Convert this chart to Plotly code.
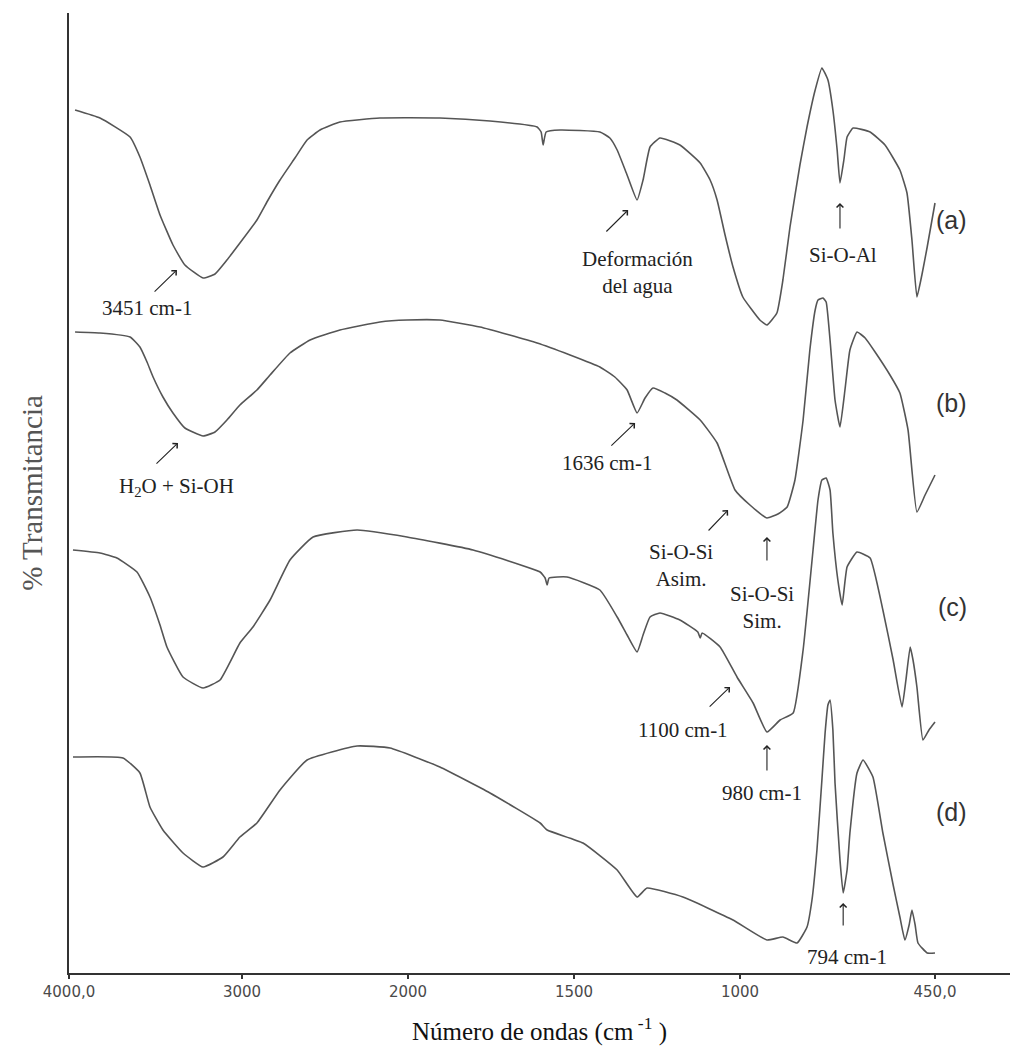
import numpy as np
import plotly.graph_objects as go

# ---------------- data (wavenumber cm-1, transmittance arbitrary %) ----------------
wn_a = [3965, 3821, 3647, 3590, 3532, 3474, 3399, 3330, 3225, 3156, 3087, 3012, 2910, 2843,
        2771, 2681, 2608, 2530, 2410, 2169, 1904, 1753, 1611, 1599, 1593, 1584, 1542, 1422,
        1392, 1370, 1340, 1310, 1292, 1271, 1241, 1181, 1120, 1090, 1069, 1045, 1021, 992,
        944, 924, 896, 879, 859, 831, 811, 788, 769, 752, 738, 726, 718, 707, 698, 681, 633,
        591, 549, 529, 515, 501, 487, 472, 450]
t_a = [86.3, 85.5, 83.6, 81.6, 78.8, 75.8, 72.8, 70.8, 69.5, 69.9, 71.3, 73.0, 75.3, 77.3,
       79.3, 81.5, 83.3, 84.3, 85.1, 85.5, 85.5, 85.2, 84.6, 84.1, 82.8, 84.1, 84.3, 84.1,
       83.5, 82.3, 79.8, 77.3, 79.3, 82.6, 83.5, 82.8, 81.0, 79.3, 77.3, 73.8, 70.6, 67.6,
       65.3, 64.8, 66.0, 69.3, 74.6, 80.8, 84.6, 88.3, 90.5, 89.3, 86.3, 82.3, 79.0, 81.3,
       83.6, 84.5, 84.1, 82.8, 80.3, 78.0, 73.3, 67.6, 69.8, 72.6, 77.0]

wn_b = [3965, 3821, 3647, 3590, 3549, 3514, 3457, 3399, 3330, 3225, 3156, 3087, 3012, 2910,
        2831, 2711, 2590, 2410, 2169, 2006, 1904, 1783, 1611, 1512, 1422, 1377, 1340, 1310,
        1286, 1262, 1226, 1190, 1120, 1069, 1015, 972, 924, 893, 867, 845, 822, 803, 788,
        780, 766, 757, 746, 732, 718, 704, 690, 670, 647, 619, 577, 549, 526, 501, 478, 450]
t_b = [64.1, 64.0, 63.6, 62.6, 61.1, 59.6, 57.6, 56.0, 54.5, 53.7, 54.1, 55.3, 56.8, 58.3,
       59.8, 62.0, 63.3, 64.3, 65.1, 65.3, 65.3, 64.6, 63.0, 61.8, 60.6, 59.6, 58.3, 56.0,
       57.5, 58.5, 58.0, 57.3, 55.3, 53.0, 48.3, 46.8, 45.5, 45.9, 46.6, 49.3, 55.3, 62.3,
       66.3, 67.3, 67.5, 67.1, 63.3, 57.3, 54.6, 58.3, 62.3, 64.1, 63.5, 62.1, 59.8, 58.0,
       54.3, 46.1, 47.8, 49.8]

wn_c = [3977, 3821, 3723, 3607, 3532, 3474, 3434, 3341, 3225, 3127, 3012, 2934, 2831, 2711,
        2572, 2307, 2006, 1804, 1602, 1587, 1581, 1575, 1521, 1422, 1370, 1340, 1310, 1292,
        1271, 1241, 1181, 1127, 1120, 1114, 1060, 1009, 963, 924, 887, 850, 822, 794, 780,
        769, 757, 746, 738, 724, 712, 698, 670, 633, 597, 568, 543, 532, 520, 512, 501, 484,
        467, 450]
t_c = [42.3, 42.0, 41.5, 40.1, 37.6, 34.8, 32.6, 29.6, 28.5, 29.3, 33.0, 34.6, 37.3, 41.3,
       43.6, 44.3, 43.6, 42.3, 40.1, 39.5, 38.8, 39.5, 39.6, 38.3, 35.6, 33.8, 32.1, 33.8,
       35.6, 36.0, 35.3, 34.1, 33.5, 34.0, 32.6, 29.6, 27.0, 24.1, 25.3, 26.0, 32.3, 42.3,
       47.3, 49.3, 49.5, 48.3, 44.0, 39.3, 36.8, 40.6, 42.1, 41.5, 36.3, 31.3, 26.6, 29.3,
       32.6, 31.3, 28.6, 23.3, 24.3, 25.1]

wn_d = [3977, 3688, 3590, 3532, 3457, 3341, 3225, 3110, 3012, 2910, 2771, 2608, 2307, 2108,
        1904, 1753, 1602, 1581, 1473, 1370, 1310, 1280, 1172, 1021, 924, 879, 839, 811, 797,
        783, 769, 760, 752, 746, 738, 732, 718, 709, 698, 690, 670, 653, 625, 597, 568, 549,
        535, 523, 515, 506, 498, 472, 450]
t_d = [21.6, 21.5, 20.0, 16.6, 14.3, 12.0, 10.6, 11.6, 13.6, 15.0, 18.3, 21.3, 22.7, 22.5,
       20.6, 18.0, 15.0, 14.3, 13.0, 10.3, 7.6, 8.5, 7.6, 5.3, 3.3, 3.6, 3.0, 4.6, 7.3,
       12.3, 19.3, 24.0, 26.8, 27.3, 24.3, 19.0, 11.3, 8.0, 10.3, 14.0, 20.0, 21.3, 19.6,
       14.0, 8.8, 5.6, 3.3, 4.8, 6.3, 4.8, 3.0, 2.0, 2.0]

series_labels = ["(a)", "(b)", "(c)", "(d)"]
tick_wn = [4000, 3000, 2000, 1500, 1000, 450]
tick_text = ["4000,0", "3000", "2000", "1500", "1000", "450,0"]

# ---------------- axis scale (non-uniform spectrometer axis) ----------------
AXIS_POS = [0, 173, 339, 505, 671, 866]


def to_axis(wn):
    wn = np.asarray(wn, dtype=float)
    return np.interp(-wn, [-w for w in tick_wn], AXIS_POS)


LINE_COLOR = "#555555"
fig = go.Figure()
for wn, t in [(wn_a, t_a), (wn_b, t_b), (wn_c, t_c), (wn_d, t_d)]:
    fig.add_trace(go.Scatter(x=to_axis(wn), y=t, mode="lines",
                             line=dict(color=LINE_COLOR, width=1.6, shape="spline", smoothing=0.4),
                             hoverinfo="skip"))

SERIF = "Liberation Serif, Times New Roman, serif"
SANS = "Liberation Sans, Arial, sans-serif"

# text annotations: (text, wn, T)
notes = [
    ("3451 cm-1", 3549, 66.5),
    ("H<sub>2</sub>O + Si-OH", 3376, 48.6),
    ("Deformación<br>del agua", 1310, 70.1),
    ("Si-O-Al", 709, 71.8),
    ("1636 cm-1", 1401, 51.0),
    ("Si-O-Si<br>Asim.", 1178, 40.8),
    ("Si-O-Si<br>Sim.", 938, 36.6),
    ("1100 cm-1", 1172, 24.3),
    ("980 cm-1", 938, 18.0),
    ("794 cm-1", 698, 1.6),
]
for txt, w, t in notes:
    fig.add_annotation(x=float(to_axis(w)), y=t, text=txt, showarrow=False,
                       font=dict(family=SERIF, size=21, color="#222"), align="center")

# arrows: (tail wn, tail T, tip wn, tip T)
arrows = [
    (3514, 68.0, 3376, 70.3),
    (3503, 50.8, 3370, 53.0),
    (1407, 74.0, 1337, 76.3),
    (718, 74.3, 718, 77.0),
    (1392, 52.6, 1316, 55.0),
    (1099, 44.1, 1036, 46.3),
    (924, 41.1, 924, 43.6),
    (1096, 26.5, 1030, 28.6),
    (924, 20.1, 924, 22.8),
    (709, 4.6, 709, 7.0),
]
for tw, tt, hw, ht in arrows:
    fig.add_annotation(x=float(to_axis(hw)), y=ht, ax=float(to_axis(tw)), ay=tt,
                       xref="x", yref="y", axref="x", ayref="y", text="",
                       showarrow=True, arrowhead=4, arrowsize=1.2, arrowwidth=1.1,
                       arrowcolor="#222")

label_y = [75.3, 57.0, 36.6, 16.1]
for lab, yy in zip(series_labels, label_y):
    fig.add_annotation(xref="paper", x=0.956, y=yy, text=lab, showarrow=False,
                       font=dict(family=SANS, size=25, color="#333"))

fig.update_layout(
    width=1024, height=1055,
    margin=dict(l=69, r=14, t=13, b=82),
    plot_bgcolor="white", paper_bgcolor="white", showlegend=False,
    xaxis=dict(range=[0, 941], showline=True, linecolor="#333", linewidth=2,
               ticks="outside", ticklen=4, tickcolor="#333", tickwidth=1.5,
               tickvals=list(AXIS_POS), ticktext=tick_text,
               tickfont=dict(family="DejaVu Sans", size=15, color="#4a4a4a"),
               showgrid=False, zeroline=False,
               title=dict(text="Número de ondas (cm<sup> -1</sup> )",
                          font=dict(family=SERIF, size=25, color="#111"), standoff=22)),
    yaxis=dict(range=[0, 96], showline=True, linecolor="#333", linewidth=2,
               showticklabels=False, ticks="", showgrid=False, zeroline=False,
               title=dict(text="% Transmitancia",
                          font=dict(family=SERIF, size=29, color="#555"), standoff=16)),
)

fig.write_html("out.html")
